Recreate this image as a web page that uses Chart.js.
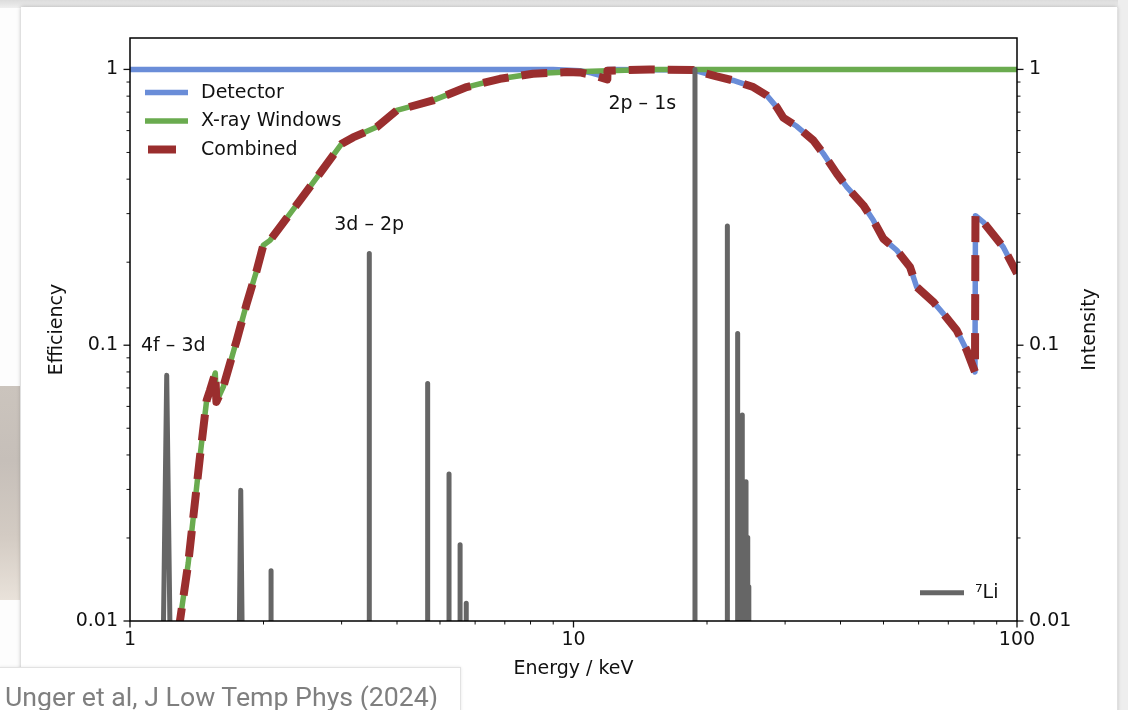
<!DOCTYPE html>
<html><head><meta charset="utf-8">
<script src="https://cdn.jsdelivr.net/npm/chart.js@4.4.1/dist/chart.umd.min.js"></script>
<style>
html,body{margin:0;padding:0;width:1128px;height:710px;overflow:hidden;background:#fdfdfd;}
#topband{position:absolute;left:0;top:0;width:1128px;height:8px;background:linear-gradient(#dcdcdc,#efefef);}
#card{position:absolute;left:21px;top:7px;width:1096px;height:720px;background:#fff;box-shadow:0 0 4px rgba(0,0,0,0.28);}
#rightstrip{position:absolute;left:1118px;top:0;width:10px;height:710px;background:#eeeeee;}
#leftimg{position:absolute;left:0;top:386px;width:20px;height:214px;background:linear-gradient(#cbc4bd 0%,#c6bfb9 35%,#d3cbc3 70%,#e9e2da 100%);}
#wrap{position:absolute;left:0;top:0;width:1128px;height:710px;}
#caption{position:absolute;left:-1px;top:667px;width:462px;height:50px;background:#fff;border:1px solid #e2e2e2;box-shadow:0 0 3px rgba(0,0,0,0.10);font-family:Roboto,sans-serif;font-size:26.7px;color:#7f7f7f;line-height:42px;padding:8px 0 0 5px;box-sizing:border-box;white-space:nowrap;}
</style>
</head>
<body>
<div id="topband"></div>
<div id="rightstrip"></div>
<div id="leftimg"></div>
<div id="card"></div>
<div id="wrap"><canvas id="c" width="1128" height="710"></canvas></div>
<div id="caption">Unger et al, J Low Temp Phys (2024)</div>
<script>
// ---------------- data ----------------
const detectorE = [1, 9, 10.34, 11.0, 11.47, 11.9, 11.93, 18.62, 21.03, 22.93, 25.43, 27.27, 28.72, 29.73, 31.87, 34.73, 36.59, 39.23, 41.30, 45.04, 47.43, 49.95, 53.56, 57.38, 59.39, 64.77, 68.21, 73.11, 77.02, 80.4, 80.6, 83.95, 93.1, 100];
const detectorV = [1, 1, 0.99, 0.97, 0.952, 0.93, 1.0, 0.995, 0.943, 0.912, 0.863, 0.805, 0.730, 0.668, 0.622, 0.553, 0.495, 0.419, 0.375, 0.3215, 0.2837, 0.2435, 0.2209, 0.1922, 0.1627, 0.1435, 0.1302, 0.1133, 0.0959, 0.080, 0.295, 0.2797, 0.227, 0.182];

const windowsE = [1.25, 1.296, 1.353, 1.438, 1.489, 1.515, 1.557, 1.566, 1.623, 1.740, 1.833, 1.931, 1.998, 2.069, 2.417, 3.002, 3.183, 3.600, 3.994, 4.823, 5.743, 6.828, 8.102, 9.654, 11.96, 14.88, 100];
const windowsV = [0.0065, 0.01, 0.0162, 0.0394, 0.0632, 0.0687, 0.0793, 0.0623, 0.0706, 0.1042, 0.1416, 0.187, 0.2303, 0.240, 0.335, 0.538, 0.567, 0.618, 0.710, 0.772, 0.863, 0.925, 0.965, 0.978, 0.99, 1.0, 1.0];

const combinedE = [1.25, 1.296, 1.353, 1.438, 1.489, 1.515, 1.557, 1.566, 1.623, 1.740, 1.833, 1.931, 1.998, 2.069, 2.417, 3.002, 3.183, 3.600, 3.994, 4.823, 5.743, 6.828, 8.102, 9.654, 10.34, 11.0, 11.47, 11.92, 11.93, 14.88, 18.62, 21.03, 22.93, 25.43, 27.27, 28.72, 29.73, 31.87, 34.73, 36.59, 39.23, 41.30, 45.04, 47.43, 49.95, 53.56, 57.38, 59.39, 64.77, 68.21, 73.11, 77.02, 80.4, 80.6, 83.95, 93.1, 100];
const combinedV = [0.0065, 0.01, 0.0162, 0.0394, 0.0632, 0.0687, 0.0793, 0.0623, 0.0706, 0.1042, 0.1416, 0.187, 0.2303, 0.240, 0.335, 0.538, 0.567, 0.618, 0.710, 0.772, 0.863, 0.925, 0.965, 0.978, 0.975, 0.955, 0.938, 0.92, 0.99, 1.0, 0.995, 0.943, 0.912, 0.863, 0.805, 0.730, 0.668, 0.622, 0.553, 0.495, 0.419, 0.375, 0.3215, 0.2837, 0.2435, 0.2209, 0.1922, 0.1627, 0.1435, 0.1302, 0.1133, 0.0959, 0.080, 0.295, 0.2797, 0.227, 0.182];

// 7Li muonic X-ray lines: energy (keV), relative intensity, half-width of the peak foot (keV)
const li7E = [1.21, 1.777, 2.08, 3.464, 4.69, 5.24, 5.55, 5.73, 18.79, 22.23, 23.45, 24.02, 24.49, 24.71, 24.85];
const li7I = [0.0778, 0.0298, 0.0152, 0.215, 0.0727, 0.0341, 0.0189, 0.0116, 1.0, 0.2706, 0.1102, 0.0558, 0.032, 0.0201, 0.0133];
const li7FootHalfWidth = [0.02, 0.012, 0, 0, 0, 0, 0, 0, 0, 0, 0, 0, 0, 0, 0];
const li7Floor = 0.01;

const lineLabels = ['4f – 3d', '3d – 2p', '2p – 1s'];
const lineLabelE = [1.252, 3.462, 14.29];
const lineLabelV = [0.099, 0.272, 0.747];

const xTickValues = [1, 10, 100];
const xTickLabels = ['1', '10', '100'];
const yTickValues = [0.01, 0.1, 1];
const yTickLabels = ['0.01', '0.1', '1'];

const seriesNames = ['Detector', 'X-ray Windows', 'Combined', '⁷Li'];
// -----------------------------------------------------------------

const FONT = 'DejaVu Sans';
Chart.defaults.font.family = FONT;
Chart.defaults.font.size = 19;
Chart.defaults.color = '#111';

const toXY = (xs, ys) => xs.map((x, i) => ({x: x, y: ys[i]}));
const li7Points = [];
li7E.forEach((e, i) => {
  const w = li7FootHalfWidth[i];
  li7Points.push({x: e - w, y: li7Floor}, {x: e, y: li7I[i]}, {x: e + w, y: li7Floor}, {x: e + w, y: null});
});

function labelFor(values, labels) {
  return function(v) {
    for (let i = 0; i < values.length; i++) {
      if (Math.abs(v - values[i]) <= values[i] * 1e-6) return labels[i];
    }
    return '';
  };
}

const decorPlugin = {
  id: 'decor',
  afterDraw(chart) {
    const ctx = chart.ctx, ca = chart.chartArea;
    const xs = chart.scales.x, ys = chart.scales.y, y2 = chart.scales.y2;
    ctx.save();
    // minor / major ticks
    ctx.strokeStyle = '#111';
    const tick = (x1, y1, x2, y2_, w) => { ctx.lineWidth = w; ctx.beginPath(); ctx.moveTo(x1, y1); ctx.lineTo(x2, y2_); ctx.stroke(); };
    for (let ex = 0; ex <= 2; ex++) {
      for (let m = 1; m <= 9; m++) {
        const v = m * Math.pow(10, ex);
        if (v < xs.min - 1e-9 || v > xs.max + 1e-9) continue;
        const px = xs.getPixelForValue(v);
        tick(px, ca.bottom, px, ca.bottom + (m === 1 ? 6.5 : 3.5), m === 1 ? 1.3 : 1);
      }
    }
    for (let ex = -2; ex <= 0; ex++) {
      for (let m = 1; m <= 9; m++) {
        const v = m * Math.pow(10, ex);
        if (v < ys.min - 1e-12 || v > ys.max + 1e-9) continue;
        const py = ys.getPixelForValue(v);
        tick(ca.left, py, ca.left - (m === 1 ? 6.5 : 3.5), py, m === 1 ? 1.3 : 1);
        const py2 = y2.getPixelForValue(v);
        tick(ca.right, py2, ca.right + (m === 1 ? 6.5 : 3.5), py2, m === 1 ? 1.3 : 1);
      }
    }
    // frame (spines)
    ctx.lineWidth = 1.5;
    ctx.strokeStyle = '#000';
    ctx.strokeRect(ca.left, ca.top, ca.right - ca.left, ca.bottom - ca.top);

    // line annotations
    ctx.fillStyle = '#111';
    ctx.font = '19px "' + FONT + '"';
    ctx.textAlign = 'center';
    ctx.textBaseline = 'middle';
    lineLabels.forEach((t, i) => {
      ctx.fillText(t, xs.getPixelForValue(lineLabelE[i]), ys.getPixelForValue(lineLabelV[i]));
    });

    // legend, upper-left
    const ds = chart.data.datasets;
    ctx.textAlign = 'left';
    [0, 1, 2].forEach((i, r) => {
      const d = ds[i];
      const y = ca.top + 54.5 + r * 28.5;
      ctx.save();
      ctx.strokeStyle = d.borderColor;
      ctx.lineWidth = d.borderWidth;
      ctx.lineCap = 'butt';
      ctx.beginPath();
      if (d.borderDash) { ctx.moveTo(ca.left + 18, y); ctx.lineTo(ca.left + 18 + d.borderDash[0] + 2, y); }
      else { ctx.moveTo(ca.left + 15, y); ctx.lineTo(ca.left + 58, y); }
      ctx.stroke();
      ctx.restore();
      ctx.fillText(d.label, ca.left + 71, y + 0.5);
    });
    // legend, lower-right
    const dl = ds[3];
    const yl = ca.bottom - 28.3;
    ctx.save();
    ctx.strokeStyle = dl.borderColor;
    ctx.lineWidth = dl.borderWidth;
    ctx.lineCap = 'butt';
    ctx.beginPath(); ctx.moveTo(ca.right - 97, yl); ctx.lineTo(ca.right - 53, yl); ctx.stroke();
    ctx.restore();
    ctx.fillText(dl.label, ca.right - 42, yl);

    // right axis title
    ctx.save();
    ctx.translate(ca.right + 73.4, (ca.top + ca.bottom) / 2);
    ctx.rotate(-Math.PI / 2);
    ctx.textAlign = 'center';
    ctx.fillText('Intensity', 0, 0);
    ctx.restore();
    ctx.restore();
  }
};

const common = {pointRadius: 0, tension: 0, fill: false, clip: 0, spanGaps: false, borderJoinStyle: 'round'};

new Chart(document.getElementById('c'), {
  type: 'line',
  data: {
    datasets: [
      Object.assign({label: seriesNames[0], data: toXY(detectorE, detectorV), borderColor: '#6a8dd8', borderWidth: 5.5, yAxisID: 'y', order: 3}, common),
      Object.assign({label: seriesNames[1], data: toXY(windowsE, windowsV), borderColor: '#6aab4f', borderWidth: 5.5, yAxisID: 'y', order: 2}, common),
      Object.assign({label: seriesNames[2], data: toXY(combinedE, combinedV), borderColor: '#9a2e2e', borderWidth: 8, borderDash: [26, 13], yAxisID: 'y', order: 1}, common),
      Object.assign({label: seriesNames[3], data: li7Points, borderColor: '#666666', borderWidth: 5, borderCapStyle: 'round', yAxisID: 'y2', order: 0}, common)
    ]
  },
  options: {
    responsive: false,
    animation: false,
    devicePixelRatio: 1,
    events: [],
    layout: {padding: {left: 22, right: 11, top: 38, bottom: 0}},
    plugins: {legend: {display: false}, tooltip: {enabled: false}},
    scales: {
      x: {
        type: 'logarithmic', position: 'bottom', min: 1, max: 100,
        grid: {display: false, drawTicks: false},
        border: {display: false},
        ticks: {autoSkip: false, maxRotation: 0, minRotation: 0, padding: 8, color: '#111', callback: labelFor(xTickValues, xTickLabels)},
        title: {display: true, text: 'Energy / keV', color: '#111', padding: {top: 0, bottom: 30}},
        afterFit: (s) => { s.height = 89; }
      },
      y: {
        type: 'logarithmic', position: 'left', min: 0.01, max: 1.3,
        grid: {display: false, drawTicks: false},
        border: {display: false},
        ticks: {autoSkip: false, padding: 12, color: '#111', callback: labelFor(yTickValues, yTickLabels)},
        title: {display: true, text: 'Efficiency', color: '#111', padding: {top: 24, bottom: 0}},
        afterFit: (s) => { s.width = 108; }
      },
      y2: {
        type: 'logarithmic', position: 'right', min: 0.01, max: 1.3,
        grid: {display: false, drawTicks: false, drawOnChartArea: false},
        border: {display: false},
        ticks: {autoSkip: false, padding: 12, color: '#111', callback: labelFor(yTickValues, yTickLabels)},
        afterFit: (s) => { s.width = 100; }
      }
    }
  },
  plugins: [decorPlugin]
});
</script>
</body></html>
